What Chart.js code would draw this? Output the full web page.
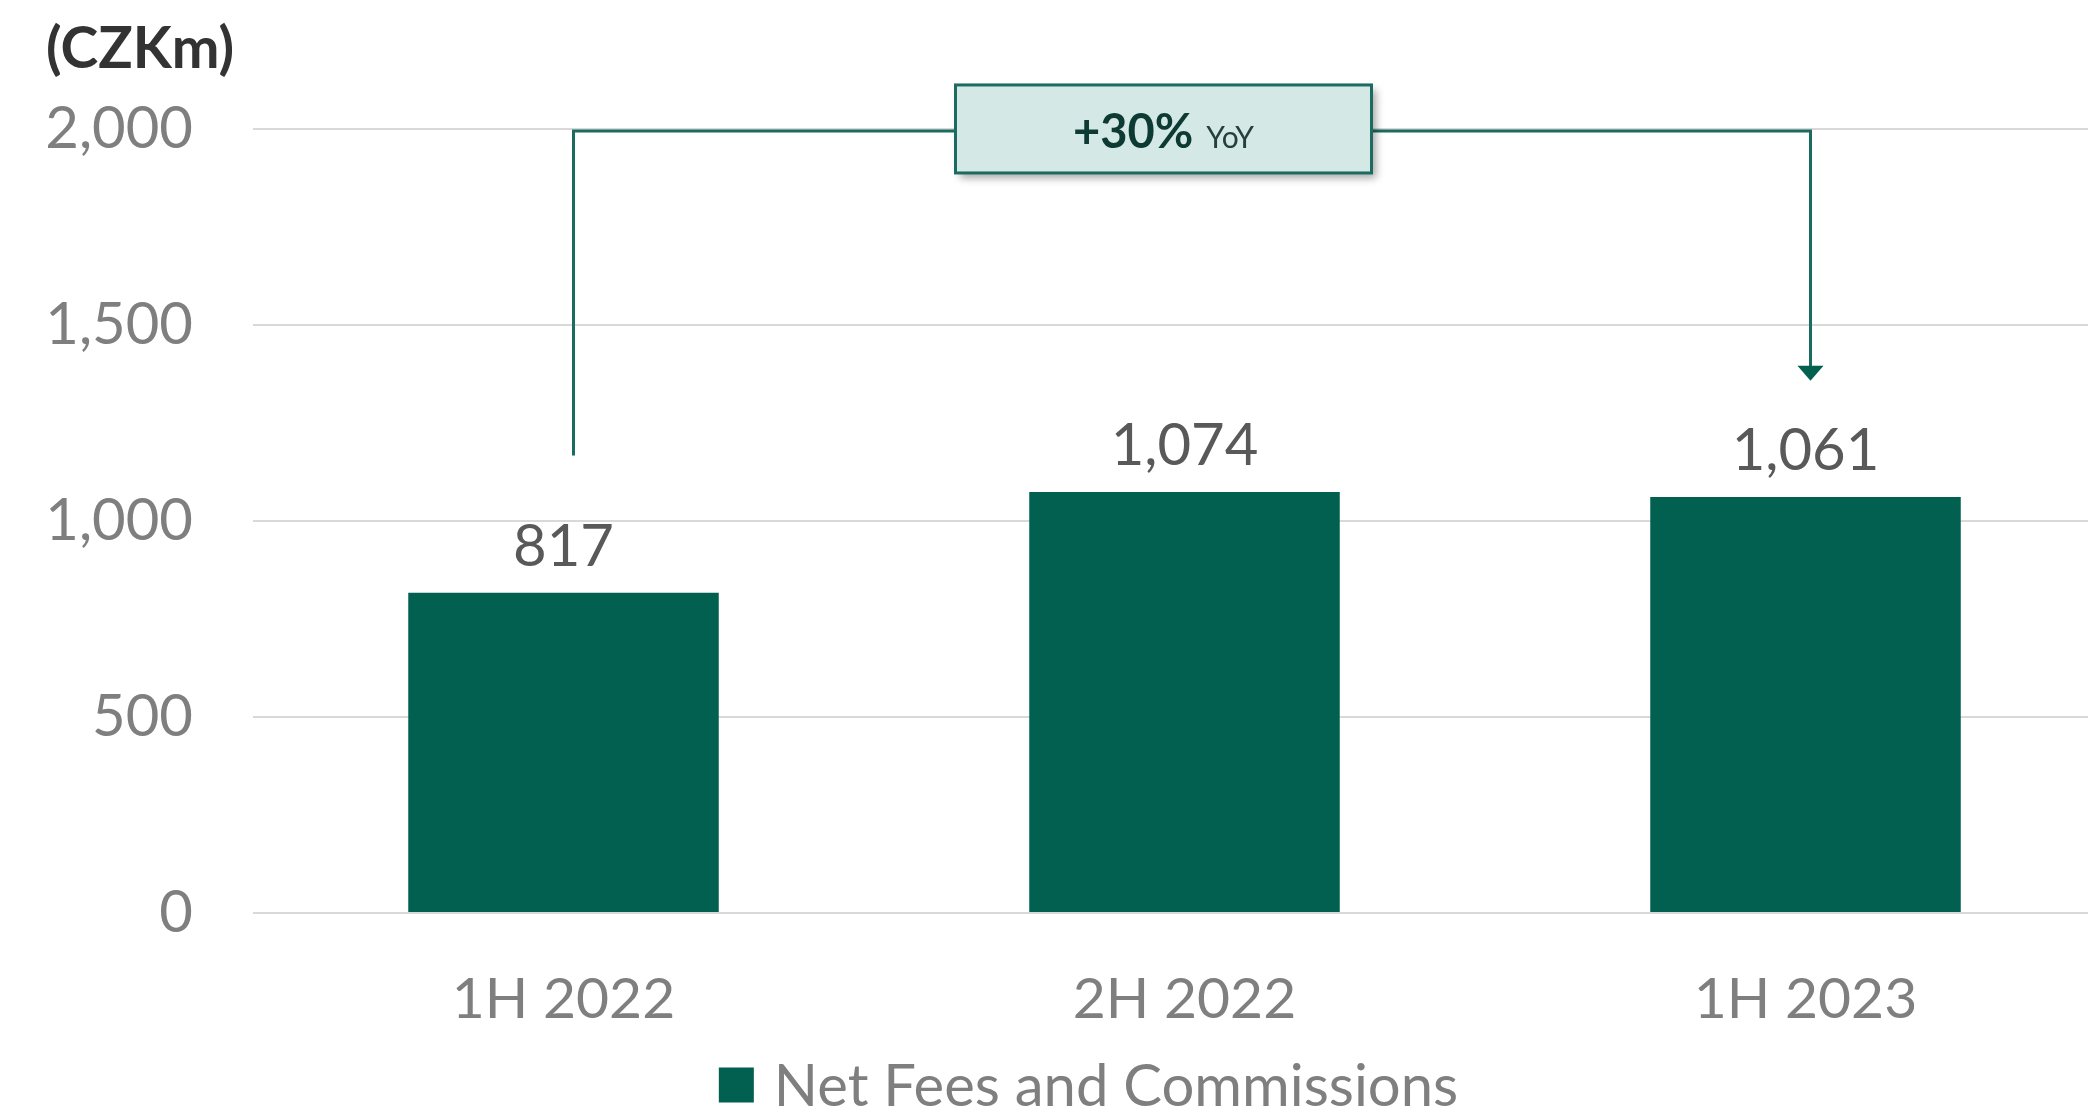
<!DOCTYPE html>
<html lang="en">
<head>
  <meta charset="UTF-8">
  <title>Net Fees and Commissions</title>
  <script src="https://cdn.jsdelivr.net/npm/chart.js"></script>
  <style>
    html, body { margin: 0; padding: 0; background: #fff; overflow: hidden; }
    #wrap { width: 2116px; height: 1113px; }
  </style>
</head>
<body>
  <div id="wrap">
    <canvas id="myChart" width="2116" height="1113"></canvas>
  </div>

<script>
  // data
  const periods = ['1H 2022', '2H 2022', '1H 2023'];
  const netFees = [817, 1074, 1061];
  const yTicks = [0, 500, 1000, 1500, 2000];
  const unitLabel = '(CZKm)';
  const seriesName = 'Net Fees and Commissions';
  const growthText = '+30%';
  const growthSuffix = 'YoY';
  // bracket: from 1H 2022 to 1H 2023, value levels on the y scale
  const bracketFrom = 0, bracketTo = 2;
  const bracketTop = 1995, bracketLeftEnd = 1167, bracketArrowTip = 1358;

  const green = '#01604f';
  const lineGreen = '#1b6b60';
  const font = 'Lato';

  const labelsOnTop = {
    id: 'labelsOnTop',
    afterDatasetsDraw(chart) {
      const ctx = chart.ctx;
      const meta = chart.getDatasetMeta(0);
      ctx.save();
      ctx.font = '58px ' + font;
      ctx.fillStyle = '#595959';
      ctx.textAlign = 'center';
      ctx.textBaseline = 'alphabetic';
      meta.data.forEach((bar, i) => {
        ctx.fillText(netFees[i].toLocaleString('en-US'), bar.x, bar.y - 27);
      });

      // unit label
      ctx.font = 'bold 57px ' + font;
      ctx.fillStyle = '#333333';
      ctx.textAlign = 'left';
      ctx.textBaseline = 'middle';
      ctx.fillText(unitLabel, 46, 50);

      // legend under the axis
      const ds = chart.data.datasets[0];
      ctx.font = '58px ' + font;
      const tw = ctx.measureText(ds.label).width;
      const box = 35, gap = 20;
      const lx = (chart.chartArea.left + chart.chartArea.right) / 2 - 96 - (box + gap + tw) / 2;
      const ly = 1085;
      ctx.fillStyle = ds.backgroundColor;
      ctx.fillRect(lx, ly - box / 2, box, box);
      ctx.fillStyle = '#7f7f7f';
      ctx.textBaseline = 'middle';
      ctx.fillText(ds.label, lx + box + gap, ly + 2);
      ctx.restore();
    }
  };

  const yoyBracket = {
    id: 'yoyBracket',
    afterDraw(chart) {
      const ctx = chart.ctx;
      const x = chart.scales.x, y = chart.scales.y;
      const x1 = x.getPixelForValue(bracketFrom) + 10;
      const x2 = x.getPixelForValue(bracketTo) + 5;
      const yTop = y.getPixelForValue(bracketTop);
      const yLeft = y.getPixelForValue(bracketLeftEnd);
      const yTip = y.getPixelForValue(bracketArrowTip);

      ctx.save();
      ctx.strokeStyle = lineGreen;
      ctx.lineWidth = 3;
      ctx.beginPath();
      ctx.moveTo(x1, yLeft);
      ctx.lineTo(x1, yTop);
      ctx.lineTo(x2, yTop);
      ctx.lineTo(x2, yTip - 14);
      ctx.stroke();

      ctx.fillStyle = '#02604f';
      ctx.beginPath();
      ctx.moveTo(x2 - 13, yTip - 15);
      ctx.lineTo(x2 + 13, yTip - 15);
      ctx.lineTo(x2, yTip);
      ctx.closePath();
      ctx.fill();

      // label box
      const cx = x.getPixelForValue(1) - 21;
      const bw = 416, bh = 88;
      const bx = cx - bw / 2, by = yTop - 2 - bh / 2;
      ctx.shadowColor = 'rgba(0,0,0,0.35)';
      ctx.shadowBlur = 8;
      ctx.shadowOffsetX = 4;
      ctx.shadowOffsetY = 5;
      ctx.fillStyle = '#d4e9e6';
      ctx.fillRect(bx, by, bw, bh);
      ctx.shadowColor = 'transparent';
      ctx.strokeStyle = lineGreen;
      ctx.lineWidth = 3;
      ctx.strokeRect(bx, by, bw, bh);

      ctx.textBaseline = 'alphabetic';
      ctx.textAlign = 'left';
      ctx.font = 'bold 47px ' + font;
      const w1 = ctx.measureText(growthText).width;
      ctx.font = '30px ' + font;
      const w2 = ctx.measureText(growthSuffix).width;
      const gap = 13;
      let tx = cx - (w1 + gap + w2) / 2;
      const base = by + bh / 2 + 19;
      ctx.font = 'bold 47px ' + font;
      ctx.fillStyle = '#0e3a34';
      ctx.fillText(growthText, tx, base);
      ctx.font = '30px ' + font;
      ctx.fillStyle = '#24403c';
      ctx.fillText(growthSuffix, tx + w1 + gap, base);
      ctx.restore();
    }
  };

  new Chart(document.getElementById('myChart'), {
    type: 'bar',
    data: {
      labels: periods,
      datasets: [{
        label: seriesName,
        data: netFees,
        backgroundColor: green,
        borderWidth: 0,
        barPercentage: 0.5,
        categoryPercentage: 1
      }]
    },
    options: {
      responsive: false,
      animation: false,
      devicePixelRatio: 1,
      layout: { padding: { top: 129, left: 0, right: 0, bottom: 0 } },
      plugins: {
        tooltip: { enabled: false },
        legend: { display: false }
      },
      scales: {
        x: {
          grid: { display: false },
          border: { display: false },
          ticks: {
            font: { family: font, size: 57 },
            color: '#7f7f7f',
            padding: 44
          },
          afterFit(scale) { scale.height = 200; }
        },
        y: {
          min: 0,
          max: 2000,
          afterBuildTicks(scale) { scale.ticks = yTicks.map(v => ({ value: v })); },
          grid: { color: '#d9d9d9', lineWidth: 2, drawTicks: false },
          border: { display: false },
          ticks: {
            font: { family: font, size: 58 },
            color: '#7f7f7f',
            padding: 60,
            callback: v => v.toLocaleString('en-US')
          },
          afterFit(scale) { scale.width = 253; }
        }
      }
    },
    plugins: [labelsOnTop, yoyBracket]
  });
</script>
</body>
</html>
